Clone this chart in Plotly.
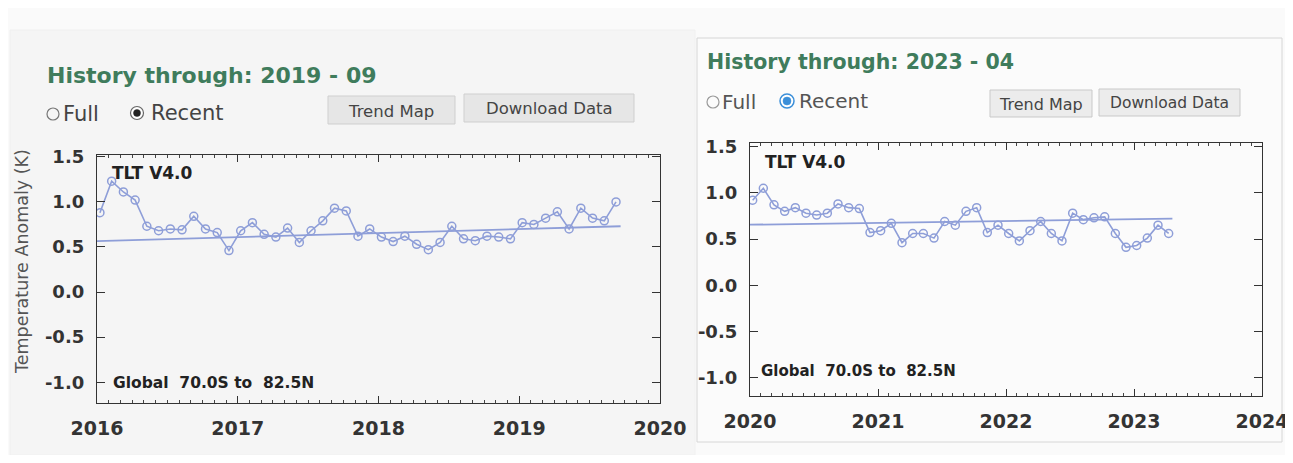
import plotly.graph_objects as go

# ---------------- data ----------------
left_start_year = 2016
left_values = [0.88, 1.23, 1.11, 1.02, 0.73, 0.68, 0.70, 0.69, 0.84, 0.70, 0.66, 0.46,
               0.68, 0.77, 0.64, 0.61, 0.71, 0.55, 0.68, 0.79, 0.93, 0.90, 0.62, 0.70,
               0.61, 0.56, 0.62, 0.53, 0.47, 0.55, 0.73, 0.59, 0.57, 0.62, 0.61, 0.59,
               0.77, 0.75, 0.82, 0.89, 0.70, 0.93, 0.82, 0.79, 1.00]
left_trend_x = [2016.0, 2019.72]
left_trend_y = [0.565, 0.73]

right_start_year = 2020
right_values = [0.92, 1.05, 0.87, 0.80, 0.84, 0.78, 0.76, 0.78, 0.88, 0.84, 0.83, 0.57,
                0.59, 0.67, 0.46, 0.56, 0.56, 0.51, 0.69, 0.65, 0.80, 0.84, 0.57, 0.65,
                0.56, 0.48, 0.59, 0.69, 0.56, 0.48, 0.78, 0.71, 0.73, 0.74, 0.56, 0.41,
                0.43, 0.51, 0.65, 0.56]
right_trend_x = [2020.0, 2023.30]
right_trend_y = [0.655, 0.72]

left_years = [2016, 2017, 2018, 2019, 2020]
right_years = [2020, 2021, 2022, 2023, 2024]
y_ticks = [-1.0, -0.5, 0.0, 0.5, 1.0, 1.5]
y_tick_text = ["-1.0", "-0.5", "0.0", "0.5", "1.0", "1.5"]


def month_x(start, n):
    return [start + (i + 0.25) / 12 for i in range(n)]


# the page body has an 8px margin: figure is placed at (8, 8) on screen
OFF = 8
W, H = 1285, 447
LINE = "#8e9ed8"
TXT = "#2b2b2b"
GREEN = "#3f7c5c"
FONT = "DejaVu Sans, Verdana, sans-serif"


def fx(x):
    return (x - OFF) / W


def fy(y):
    return 1 - (y - OFF) / H


fig = go.Figure()

marker = dict(symbol="circle-open", size=8, color=LINE, line=dict(width=1.5))
fig.add_trace(go.Scatter(x=month_x(left_start_year, len(left_values)), y=left_values,
                         mode="lines+markers", line=dict(color=LINE, width=1.6), marker=marker,
                         xaxis="x", yaxis="y", showlegend=False))
fig.add_trace(go.Scatter(x=left_trend_x, y=left_trend_y, mode="lines",
                         line=dict(color=LINE, width=1.8), xaxis="x", yaxis="y", showlegend=False))
fig.add_trace(go.Scatter(x=month_x(right_start_year, len(right_values)), y=right_values,
                         mode="lines+markers", line=dict(color=LINE, width=1.6), marker=marker,
                         xaxis="x2", yaxis="y2", showlegend=False))
fig.add_trace(go.Scatter(x=right_trend_x, y=right_trend_y, mode="lines",
                         line=dict(color=LINE, width=1.8), xaxis="x2", yaxis="y2", showlegend=False))

xtickfont = dict(family=FONT, size=19, color="#333333", weight="bold")
ytickfont = dict(family=FONT, size=18, color="#333333", weight="bold")

common_x = dict(showline=True, linecolor="#333333", linewidth=1.3, mirror="ticks",
                ticks="inside", ticklen=7, tickcolor="#333333", tickwidth=1.2,
                showgrid=False, zeroline=False, tickfont=xtickfont, ticklabelstandoff=8,
                automargin=False,
                minor=dict(dtick=1 / 12, ticks="inside", ticklen=3, tickcolor="#444444", showgrid=False))
common_y = dict(showline=True, linecolor="#333333", linewidth=1.3, mirror="ticks",
                ticks="inside", ticklen=8, tickcolor="#333333", tickwidth=1.2,
                showgrid=False, zeroline=False, tickfont=ytickfont, ticklabelstandoff=8,
                automargin=False, tickvals=y_ticks, ticktext=y_tick_text)

fig.update_layout(
    width=W, height=H,
    autosize=False,
    margin=dict(l=0, r=0, t=0, b=0, pad=0),
    paper_bgcolor="#fafafa",
    plot_bgcolor="#fcfcfc",
    xaxis=dict(domain=[fx(97), fx(660)], range=[2016, 2020], anchor="y",
               tickvals=left_years, ticktext=[str(v) for v in left_years], **common_x),
    yaxis=dict(domain=[fy(403), fy(155)], range=[-1.23, 1.52], anchor="x", **common_y),
    xaxis2=dict(domain=[fx(750), fx(1262)], range=[2020, 2024], anchor="y2",
                tickvals=right_years, ticktext=[str(v) for v in right_years], **common_x),
    yaxis2=dict(domain=[fy(396), fy(143)], range=[-1.2, 1.54], anchor="x2", **common_y),
)

ann = []


def add_text(text, x, y, size, color=TXT, bold=False, xanchor="left", angle=0):
    ann.append(dict(text=text, x=fx(x), y=fy(y), xref="paper", yref="paper",
                    xanchor=xanchor, yanchor="middle", showarrow=False, textangle=angle,
                    font=dict(family=FONT, size=size, color=color, weight="bold" if bold else "normal")))


# headers
add_text("History through: 2019 - 09", 45, 75, 22, GREEN, True)
add_text("History through: 2023 - 04", 705, 62, 20.5, GREEN, True)

# radio labels
add_text("Full", 61, 114, 21, "#444444")
add_text("Recent", 149, 113, 21, "#444444")
add_text("Full", 720, 102, 20, "#555555")
add_text("Recent", 797, 101, 20, "#555555")

# buttons text
add_text("Trend Map", 391, 111, 16.5, "#444444", xanchor="center")
add_text("Download Data", 549, 109, 16.5, "#444444", xanchor="center")
add_text("Trend Map", 1041, 104, 16, "#444444", xanchor="center")
add_text("Download Data", 1169, 103, 15.5, "#444444", xanchor="center")

# in-plot labels
add_text("TLT V4.0", 110, 173, 17, "#222222", True)
add_text("Global  70.0S to  82.5N", 111, 383, 15.5, "#222222", True)
add_text("TLT V4.0", 763, 162, 17, "#222222", True)
add_text("Global  70.0S to  82.5N", 759, 371, 15, "#222222", True)

# y axis title
add_text("Temperature Anomaly (K)", 22, 262, 17.5, "#555555", xanchor="center", angle=-90)

fig.update_layout(annotations=ann)

shapes = []


def rect(x0, y0, x1, y1, fill, line, layer="above"):
    shapes.append(dict(type="rect", xref="paper", yref="paper",
                       x0=fx(x0), x1=fx(x1), y0=fy(y1), y1=fy(y0),
                       fillcolor=fill, line=dict(color=line, width=1), layer=layer))


def circle(cx, cy, r, fill, line, lw=1.2):
    shapes.append(dict(type="circle", xref="paper", yref="paper",
                       x0=fx(cx - r), x1=fx(cx + r), y0=fy(cy + r), y1=fy(cy - r),
                       fillcolor=fill, line=dict(color=line, width=lw)))


# panel backgrounds (scanned page pieces)
rect(10, 30, 695, 455, "#f5f5f5", "#f0f0f0", "below")
rect(697, 38, 1282, 442, "#fbfbfb", "#d6d6d6", "below")

# buttons
rect(328, 96, 455, 124, "#e6e6e6", "#cfcfcf")
rect(464, 94, 634, 122, "#e6e6e6", "#cfcfcf")
rect(990, 90, 1092, 117, "#ececec", "#c9c9c9")
rect(1099, 89, 1240, 116, "#ececec", "#c9c9c9")

# radios
circle(53, 114, 6, "rgba(0,0,0,0)", "#777777")
circle(137, 113, 6.5, "#ffffff", "#666666")
circle(137, 113, 3.5, "#222222", "#222222", 0.5)
circle(713, 102, 6, "rgba(0,0,0,0)", "#999999")
circle(787, 101, 7, "#ffffff", "#3b8fd9", 1.5)
circle(787, 101, 4, "#3b8fd9", "#3b8fd9", 0.5)

fig.update_layout(shapes=shapes)

fig.write_html("out.html")
